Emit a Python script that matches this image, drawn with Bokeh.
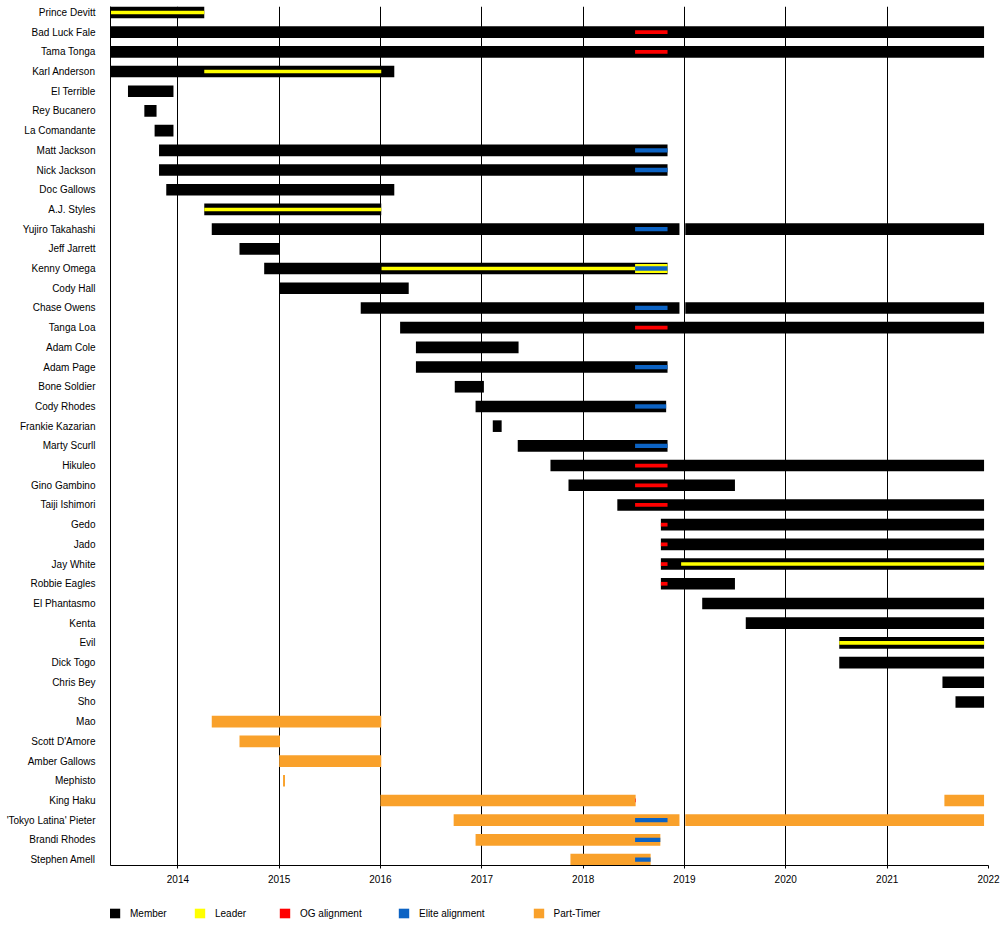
import pandas as pd
from bokeh.plotting import figure
from bokeh.layouts import column
from bokeh.models import (ColumnDataSource, Range1d, FixedTicker, DatetimeTickFormatter,
                          Legend, LegendItem)
from bokeh.embed import file_html
from bokeh.resources import INLINE

# roster, top to bottom
names = ["Prince Devitt", "Bad Luck Fale", "Tama Tonga", "Karl Anderson", "El Terrible",
         "Rey Bucanero", "La Comandante", "Matt Jackson", "Nick Jackson", "Doc Gallows",
         "A.J. Styles", "Yujiro Takahashi", "Jeff Jarrett", "Kenny Omega", "Cody Hall",
         "Chase Owens", "Tanga Loa", "Adam Cole", "Adam Page", "Bone Soldier",
         "Cody Rhodes", "Frankie Kazarian", "Marty Scurll", "Hikuleo", "Gino Gambino",
         "Taiji Ishimori", "Gedo", "Jado", "Jay White", "Robbie Eagles",
         "El Phantasmo", "Kenta", "Evil", "Dick Togo", "Chris Bey", "Sho",
         "Mao", "Scott D'Amore", "Amber Gallows", "Mephisto", "King Haku",
         "'Tokyo Latina' Pieter", "Brandi Rhodes", "Stephen Amell"]

years = list(range(2014, 2023))
period_from = "2013-05-03"
period_till = "2022-01-01"

# full members
member_who = ["Prince Devitt", "Bad Luck Fale", "Tama Tonga", "Karl Anderson", "El Terrible",
              "Rey Bucanero", "La Comandante", "Matt Jackson", "Nick Jackson", "Doc Gallows",
              "A.J. Styles", "Yujiro Takahashi", "Yujiro Takahashi", "Jeff Jarrett", "Kenny Omega",
              "Cody Hall", "Chase Owens", "Chase Owens", "Tanga Loa", "Adam Cole",
              "Adam Page", "Bone Soldier", "Cody Rhodes", "Frankie Kazarian", "Marty Scurll",
              "Hikuleo", "Gino Gambino", "Taiji Ishimori", "Gedo", "Jado",
              "Jay White", "Robbie Eagles", "El Phantasmo", "Kenta", "Evil",
              "Dick Togo", "Chris Bey", "Sho"]
member_from = ["2013-05-03", "2013-05-03", "2013-05-03", "2013-05-03", "2013-07-05",
               "2013-09-02", "2013-10-09", "2013-10-25", "2013-10-25", "2013-11-20",
               "2014-04-06", "2014-05-03", "2019-01-04", "2014-08-11", "2014-11-08",
               "2015-01-01", "2015-10-22", "2019-01-04", "2016-03-12", "2016-05-08",
               "2016-05-08", "2016-09-25", "2016-12-09", "2017-02-09", "2017-05-10",
               "2017-09-05", "2017-11-09", "2018-05-04", "2018-10-08", "2018-10-08",
               "2018-10-08", "2018-10-08", "2019-03-06", "2019-08-10", "2020-07-12",
               "2020-07-12", "2021-07-19", "2021-09-04"]
member_till = ["2014-04-06", "2021-12-16", "2021-12-16", "2016-02-20", "2013-12-16",
               "2013-10-16", "2013-12-16", "2018-11-01", "2018-11-01", "2016-02-20",
               "2016-01-04", "2018-12-14", "2021-12-16", "2015-01-01", "2018-11-01",
               "2016-04-12", "2018-12-14", "2021-12-16", "2021-12-16", "2017-05-13",
               "2018-11-01", "2017-01-08", "2018-10-27", "2017-03-13", "2018-11-01",
               "2021-12-16", "2019-07-02", "2021-12-16", "2021-12-16", "2021-12-16",
               "2021-12-16", "2019-07-02", "2021-12-16", "2021-12-16", "2021-12-16",
               "2021-12-16", "2021-12-16", "2021-12-16"]

# part-timers
part_who = ["Mao", "Scott D'Amore", "Amber Gallows", "Mephisto", "King Haku", "King Haku",
            "'Tokyo Latina' Pieter", "'Tokyo Latina' Pieter", "Brandi Rhodes", "Stephen Amell"]
part_from = ["2014-05-03", "2014-08-11", "2015-01-01", "2015-01-15", "2016-01-01", "2021-07-26",
             "2016-09-21", "2019-01-04", "2016-12-09", "2017-11-16"]
part_till = ["2016-01-04", "2015-01-04", "2016-01-04", "2015-01-22", "2018-07-09", "2021-12-16",
             "2018-12-14", "2021-12-16", "2018-10-06", "2018-09-01"]

# leaders
leader_who = ["Prince Devitt", "Karl Anderson", "A.J. Styles", "Kenny Omega", "Jay White", "Evil"]
leader_from = ["2013-05-03", "2014-04-06", "2014-04-06", "2016-01-05", "2018-12-20", "2020-07-12"]
leader_till = ["2014-04-06", "2016-01-04", "2016-01-04", "2018-11-01", "2021-12-16", "2021-12-16"]

# OG alignment (2018 split)
og_who = ["Bad Luck Fale", "Tama Tonga", "Tanga Loa", "Hikuleo", "Gino Gambino", "Taiji Ishimori",
          "Gedo", "Jado", "Jay White", "Robbie Eagles", "King Haku"]
og_from = ["2018-07-07"] * 6 + ["2018-10-08"] * 4 + ["2018-07-07"]
og_till = ["2018-11-01"] * 10 + ["2018-07-09"]

# Elite alignment
elite_who = ["Matt Jackson", "Nick Jackson", "Yujiro Takahashi", "Kenny Omega", "Chase Owens",
             "Adam Page", "Cody Rhodes", "Marty Scurll", "'Tokyo Latina' Pieter",
             "Brandi Rhodes", "Stephen Amell"]
elite_from = ["2018-07-07"] * 11
elite_till = ["2018-11-01"] * 6 + ["2018-10-27", "2018-11-01", "2018-11-01",
                                   "2018-10-06", "2018-09-01"]

legend_labels = ["Member", "Leader", "OG alignment", "Elite alignment", "Part-Timer"]
colors = {"Member": "black", "Leader": "#ffff00", "OG alignment": "#ff0000",
          "Elite alignment": "#0c63c4", "Part-Timer": "#f9a12b"}

N = len(names)
rows = {n: N - 1 - i for i, n in enumerate(names)}
FONT = "Liberation Sans"


def segments(who, start, till):
    return ColumnDataSource(data=dict(y=[rows[n] for n in who],
                                      left=pd.to_datetime(start).values,
                                      right=pd.to_datetime(till).values,
                                      who=who))


p = figure(width=1000, height=890, x_axis_type="datetime",
           x_range=Range1d(pd.Timestamp(period_from), pd.Timestamp(period_till)),
           y_range=Range1d(-0.3, N - 1 + 0.3),
           output_backend="svg", toolbar_location=None, title=None,
           min_border_left=110, min_border_right=12, min_border_top=6, min_border_bottom=25)
p.outline_line_color = None

year_ms = [pd.Timestamp(f"{y}-01-01").value / 1e6 for y in years]

p.xaxis.ticker = FixedTicker(ticks=year_ms)
p.xgrid.ticker = FixedTicker(ticks=year_ms)
p.xaxis.formatter = DatetimeTickFormatter(years="%Y", months="%Y", days="%Y")
p.xaxis.minor_tick_line_color = None
p.xaxis.major_tick_out = 3
p.xaxis.major_tick_in = 0
p.xaxis.major_label_standoff = 6
p.xaxis.axis_line_color = "black"
p.xaxis.major_tick_line_color = "black"
p.xgrid.grid_line_color = "black"
p.xgrid.grid_line_alpha = 1
p.ygrid.grid_line_color = None

p.yaxis.ticker = FixedTicker(ticks=list(range(N)))
p.yaxis.major_label_overrides = {rows[n]: n for n in names}
p.yaxis.major_tick_line_color = None
p.yaxis.minor_tick_line_color = None
p.yaxis.major_label_standoff = 9
p.yaxis.axis_line_color = "black"

for ax in (p.xaxis, p.yaxis):
    ax.major_label_text_font = FONT
    ax.major_label_text_font_size = "10px"
    ax.major_label_text_color = "black"

bar_h = 0.59
p.hbar(y="y", left="left", right="right", height=bar_h, color=colors["Member"],
       line_color=None, source=segments(member_who, member_from, member_till))
p.hbar(y="y", left="left", right="right", height=bar_h, color=colors["Part-Timer"],
       line_color=None, source=segments(part_who, part_from, part_till))
p.hbar(y="y", left="left", right="right", height=0.18, color=colors["Leader"],
       line_color=None, source=segments(leader_who, leader_from, leader_till))
# Kenny's leader band is drawn wider where the Elite line sits on it
p.hbar(y="y", left="left", right="right", height=0.45, color=colors["Leader"], line_color=None,
       source=segments(["Kenny Omega"], ["2018-07-07"], ["2018-11-01"]))
p.hbar(y="y", left="left", right="right", height=0.19, color=colors["OG alignment"],
       line_color=None, source=segments(og_who, og_from, og_till))
p.hbar(y="y", left="left", right="right", height=0.22, color=colors["Elite alignment"],
       line_color=None, source=segments(elite_who, elite_from, elite_till))

# legend strip under the chart (its frame lines up with the chart's frame)
leg = figure(width=1000, height=35, x_range=Range1d(0, 1), y_range=Range1d(0, 1),
             output_backend="svg", toolbar_location=None, title=None,
             x_axis_location=None, y_axis_location=None, min_border=0)
leg.outline_line_color = None
leg.grid.visible = False

nan = float("nan")
swatch = {lab: leg.hbar(y=[nan], left=[nan], right=[nan], height=1, color=colors[lab],
                        line_color=None)
          for lab in legend_labels}


def legend_block(labels, x, gap):
    return Legend(items=[LegendItem(label=lab, renderers=[swatch[lab]]) for lab in labels],
                  orientation="horizontal", location=(x, 6),
                  glyph_width=13, glyph_height=12, label_height=12, label_width=38,
                  label_standoff=9, spacing=gap, padding=0, margin=0,
                  label_text_font=FONT, label_text_font_size="10px", label_text_color="black",
                  border_line_color=None, background_fill_alpha=0)


leg.add_layout(legend_block(legend_labels[:3], -2, 25))
leg.add_layout(legend_block(legend_labels[3:], 287, 47))

open("out.html", "w").write(file_html(column(p, leg), INLINE))
